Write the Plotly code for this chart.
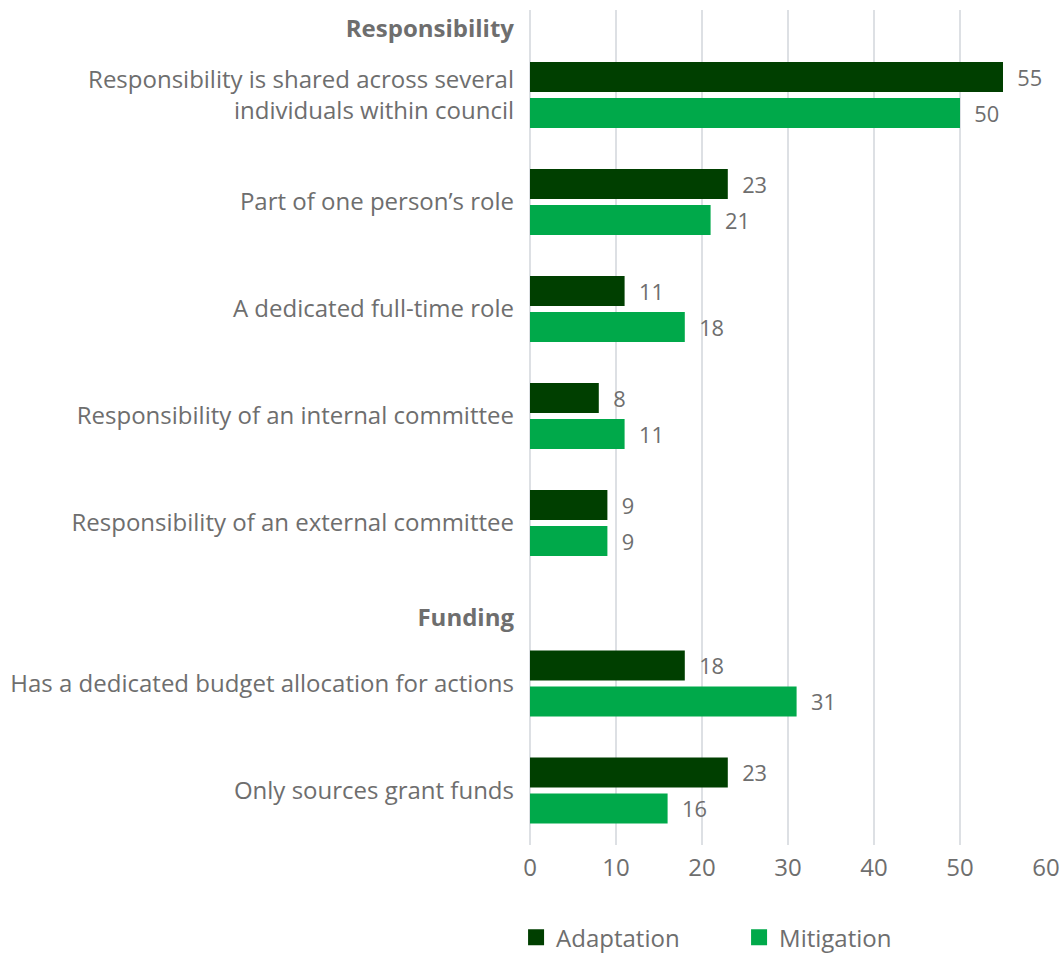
import plotly.graph_objects as go

groups = ["Responsibility", "Funding"]
items_responsibility = [
    "Responsibility is shared across several<br>individuals within council",
    "Part of one person’s role",
    "A dedicated full-time role",
    "Responsibility of an internal committee",
    "Responsibility of an external committee",
]
items_funding = [
    "Has a dedicated budget allocation for actions",
    "Only sources grant funds",
]
adaptation = [55, 23, 11, 8, 9, 18, 23]
mitigation = [50, 21, 18, 11, 9, 31, 16]
series_names = ["Adaptation", "Mitigation"]
colors = ["#003f00", "#00a94a"]
x_ticks = [0, 10, 20, 30, 40, 50, 60]

# layout positions for categories and group headers
pos = []
labels = []
header_pos = []
p = 0.0
for gi, items in enumerate([items_responsibility, items_funding]):
    if gi > 0:
        p += 0.5
    header_pos.append(p - 0.62)
    for it in items:
        pos.append(p)
        labels.append(it)
        p += 1.0

tickvals = header_pos + pos
ticktext = ["<b>%s</b>" % g for g in groups] + labels

txt_color = "#6e6e6e"
font_family = "Open Sans"
fs = 24

fig = go.Figure()
for name, vals, col in zip(series_names, [adaptation, mitigation], colors):
    fig.add_trace(go.Bar(
        y=pos, x=vals, orientation="h", name=name,
        marker=dict(color=col, line=dict(width=0)),
        text=vals, texttemplate="  %{x}", textposition="outside",
        textfont=dict(size=fs, color=txt_color, family=font_family),
        cliponaxis=False, showlegend=False,
    ))
    fig.add_trace(go.Scatter(
        x=[None], y=[None], mode="markers", name=name,
        marker=dict(symbol="square", size=19, color=col),
        showlegend=True,
    ))

fig.update_layout(
    width=1060, height=953,
    margin=dict(l=530, r=14, t=10, b=108, autoexpand=False),
    barmode="group", bargap=0.327, bargroupgap=1/6,
    plot_bgcolor="white", paper_bgcolor="white",
    font=dict(family=font_family, size=fs, color=txt_color),
    legend=dict(orientation="h", x=-0.027, xanchor="left",
                yref="container", y=0.016, yanchor="middle",
                font=dict(size=fs, color=txt_color), entrywidth=178,
                itemclick=False),
)
fig.update_xaxes(range=[0, 60], tickvals=x_ticks, showgrid=True,
                 gridcolor="#dde0e4", gridwidth=1.5, zeroline=True,
                 zerolinecolor="#dde0e4", zerolinewidth=1.5, showline=False,
                 ticks="", ticklabelstandoff=6, automargin=False,
                 tickfont=dict(size=fs, color=txt_color))
fig.update_yaxes(range=[7.01, -0.794], tickvals=tickvals, ticktext=ticktext,
                 showgrid=False, zeroline=False, showline=False, ticks="",
                 automargin=False,
                 ticklabelstandoff=15, tickfont=dict(size=fs, color=txt_color))

fig.write_html("out.html")
